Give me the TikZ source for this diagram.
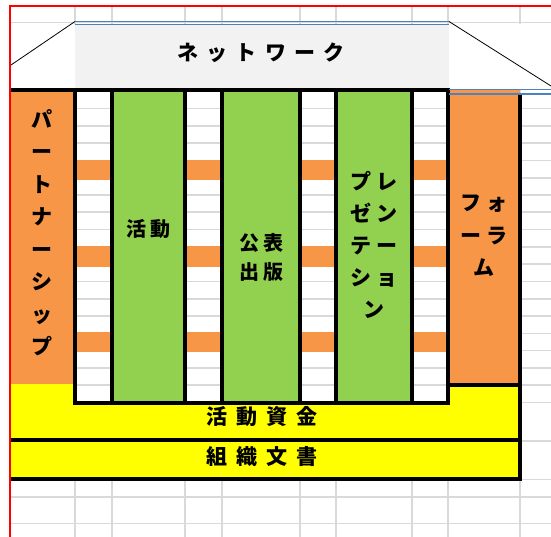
\documentclass[tikz,border=0pt]{standalone}
\usepackage{fontspec}
\newfontfamily\jp{Noto Sans CJK JP}
\definecolor{xorange}{HTML}{F79646}
\definecolor{xgreen}{HTML}{92D050}
\definecolor{xyellow}{HTML}{FFFF00}
\definecolor{xgray}{HTML}{F2F2F2}
\definecolor{xgrid}{HTML}{D9D9D9}
\definecolor{xblue}{HTML}{4F81BD}
\definecolor{xred}{HTML}{FF0000}
\newcommand\spaced[2]{{\def\lsk{#1}\lspA#2\relax}}
\def\lspA#1{#1\lspB}
\def\lspB#1{\ifx#1\relax\else\kern\lsk\relax#1\expandafter\lspB\fi}
\tikzset{
  gridline/.style={draw=xgrid, line width=1.6pt},
  blackline/.style={draw=black, line width=4pt},
  blueline/.style={draw=xblue, line width=1.4pt},
  diag/.style={draw=black, line width=0.8pt},
  redline/.style={draw=xred, line width=2pt},
  lbl/.style={inner sep=0pt, align=center, font=\jp\bfseries\fontsize{21}{32.5}\selectfont},
  slbl/.style={inner sep=0pt, align=center, font=\jp\bfseries\fontsize{20}{29}\selectfont},
}
\begin{document}
\begin{tikzpicture}[x=1pt, y=-1pt]
\useasboundingbox (0,0) rectangle (551,537);
\fill[white] (0,0) rectangle (551,537);
% grid
\foreach \gx in {75,112,185,222,300,336,412,448,520}
  \draw[gridline] (\gx,6) -- (\gx,537);
\foreach \gy in {22.7,108.5,125.8,143.2,160.5,177.8,195,212.3,229.6,246.9,264.2,281.5,298.8,316,333.3,350.6,367.9,385.2,402.5,440.8,479.4,496.8,523.3}
  \draw[gridline] (10,\gy) -- (551,\gy);
% merged top area
\fill[white] (11,23.8) rectangle (551,89);
% fills
\fill[xgray] (75,24.5) rectangle (449,89);
\fill[xorange] (10,89) rectangle (75,384);
\fill[xorange] (448,89) rectangle (520,385);
\fill[xgreen] (112,89) rectangle (185,403);
\fill[xgreen] (222,89) rectangle (300,403);
\fill[xgreen] (336,89) rectangle (412,403);
\foreach \sy in {160,246.5,332}{
  \fill[xorange] (75,\sy) rectangle (112,\sy+20);
  \fill[xorange] (185,\sy) rectangle (222,\sy+20);
  \fill[xorange] (300,\sy) rectangle (336,\sy+20);
  \fill[xorange] (412,\sy) rectangle (448,\sy+20);
}
\fill[xyellow] (10,384) -- (75,384) -- (75,402.5) -- (448,402.5) -- (448,385) -- (520,385) -- (520,478.5) -- (10,478.5) -- cycle;
% black borders
\draw[blackline] (10,90.5) -- (450,90.5);
\foreach \bx in {75,112,185,222,300,336,412,448}
  \draw[blackline] (\bx,88.5) -- (\bx,404.5);
\draw[blackline] (73,402.5) -- (450,402.5);
\draw[blackline] (448,385) -- (522,385);
\draw[blackline] (520,94) -- (520,480.5);
\draw[blackline] (10,440) -- (522,440);
\draw[blackline] (10,478.5) -- (522,478.5);
% blue double lines
\draw[blueline] (75,21.3) -- (449,21.3);
\draw[blueline] (75,24.7) -- (449,24.7);
\draw[blueline] (449,89.7) -- (551,89.7);
\draw[blueline] (449,94) -- (551,94);
% diagonals
\coordinate (dl1) at (11,65);
\coordinate (dl2) at (75,21.5);
\coordinate (dr1) at (449,21.5);
\coordinate (dr2) at (551,86);
\draw[diag] (dl1) -- (dl2);
\draw[diag] (dr1) -- (dr2);
% red frame
\draw[redline] (10.3,5) -- (10.3,537);
\draw[redline] (9.3,6) -- (551,6);
% labels
\node[lbl] (network) at (261,53) {\spaced{8.4pt}{ネットワーク}};
\node[lbl] (partner) at (42,232.5) {パ\\ー\\ト\\ナ\\ー\\シ\\ッ\\プ};
\node[slbl] (katsudo) at (148,229) {\spaced{4pt}{活動}};
\node[slbl] (koho) at (261,257.5) {\spaced{4pt}{公表}\\\spaced{4pt}{出版}};
\node[lbl, font=\jp\bfseries\fontsize{21}{32}\selectfont] (presen) at (374,245) {\spaced{6pt}{プレ}\\\spaced{6pt}{ゼン}\\\spaced{6pt}{テー}\\\spaced{6pt}{ショ}\\ン};
\node[lbl] (forum) at (484,236) {\spaced{5pt}{フォ}\\\spaced{5pt}{ーラ}\\ム};
\node[lbl] (shikin) at (262,417) {\spaced{8.7pt}{活動資金}};
\node[lbl] (bunsho) at (262,456.5) {\spaced{8.7pt}{組織文書}};
\end{tikzpicture}
\end{document}
